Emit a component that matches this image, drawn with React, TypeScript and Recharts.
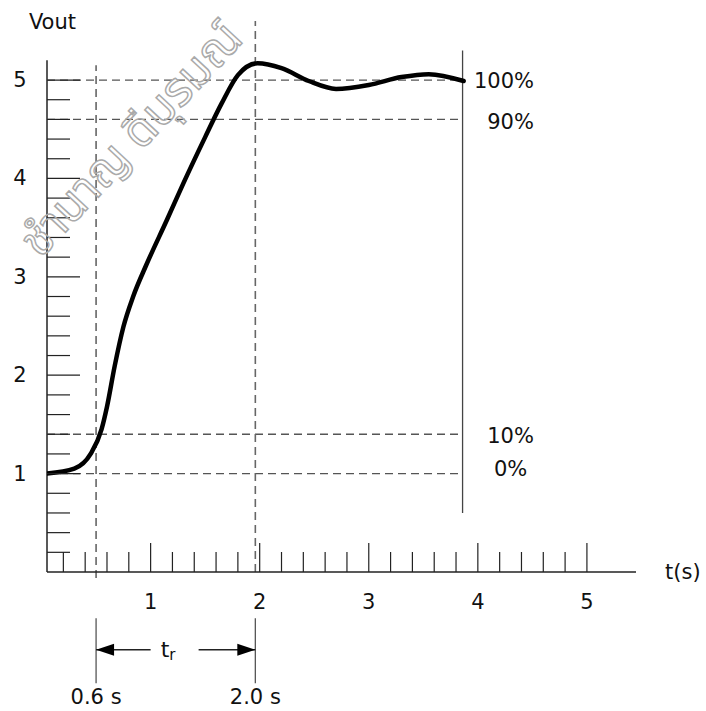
import React from "react";
import { LineChart, Line, XAxis, YAxis, ReferenceLine, ReferenceDot } from "recharts";

// step response (t in s, Vout in V)
const tValues = [0.05, 0.3, 0.45, 0.55, 0.6, 0.67, 0.75, 0.84, 0.96, 1.15, 1.3, 1.5, 1.65, 1.8, 1.98, 2.2, 2.45, 2.7, 3.0, 3.3, 3.55, 3.87];
const voutValues = [1.0, 1.05, 1.2, 1.45, 1.68, 2.09, 2.49, 2.8, 3.12, 3.58, 3.95, 4.42, 4.76, 5.05, 5.17, 5.12, 4.99, 4.91, 4.95, 5.03, 5.06, 4.99];

const xMajor = [1, 2, 3, 4, 5];
const xLabels = ["1", "2", "3", "4", "5"];
const xTicks = [0.2, 0.4, 0.6, 0.8, 1, 1.2, 1.4, 1.6, 1.8, 2, 2.2, 2.4, 2.6, 2.8, 3, 3.2, 3.4, 3.6, 3.8, 4, 4.2, 4.4, 4.6, 4.8, 5];

const yMajor = [1, 2, 3, 4, 5];
const yLabels = ["1", "2", "3", "4", "5"];
const yTicks = [0.2, 0.4, 0.6, 0.8, 1, 1.2, 1.4, 1.6, 1.8, 2, 2.2, 2.4, 2.6, 2.8, 3, 3.2, 3.4, 3.6, 3.8, 4, 4.2, 4.4, 4.6, 4.8, 5];

// 100% / 90% / 10% / 0% levels
const percentLevels = [5.0, 4.6, 1.4, 1.0];
const percentLabels = ["100%", "90%", "10%", "0%"];
const percentLabelX = [4.24, 4.3, 4.3, 4.3];
const percentLabelY = [4.99, 4.57, 1.38, 1.05];
const levelEnd = 3.86;

// rise time markers (where they sit on the drawing) and their labels
const riseMarks = [0.5, 1.96];
const riseLabels = ["0.6 s", "2.0 s"];

const data = tValues.map((t, i) => ({ t, v: voutValues[i] }));

const FONT = "'DejaVu Sans', Verdana, sans-serif";
const INK = "#222";
const DASH = "#555";

function XTick({ x, y, payload }: any) {
  const idx = xMajor.indexOf(payload.value);
  const major = idx >= 0;
  return (
    <g>
      <line x1={x} x2={x} y1={y} y2={y - (major ? 29 : 20)} stroke={INK} strokeWidth={1.2} />
      {major && (
        <text x={x} y={y + 30} textAnchor="middle" dominantBaseline="central" fontSize={21} fontFamily={FONT} fill="#111">
          {xLabels[idx]}
        </text>
      )}
    </g>
  );
}

function YTick({ x, y, payload }: any) {
  const idx = yMajor.indexOf(payload.value);
  const major = idx >= 0;
  return (
    <g>
      <line x1={x} x2={x + (major ? 33 : 23)} y1={y} y2={y} stroke={INK} strokeWidth={1.2} />
      {major && (
        <text x={x - 27} y={y} textAnchor="middle" dominantBaseline="central" fontSize={21} fontFamily={FONT} fill="#111">
          {yLabels[idx]}
        </text>
      )}
    </g>
  );
}

function Arrow(props: any) {
  const { x1, y1, x2, y2 } = props;
  const dir = Math.sign(x2 - x1);
  return (
    <g>
      <line x1={x1} y1={y1} x2={x2} y2={y2} stroke={INK} strokeWidth={1.3} />
      <polygon points={`${x2},${y2} ${x2 - dir * 18},${y2 - 6} ${x2 - dir * 18},${y2 + 6}`} fill="#000" />
    </g>
  );
}

function textShape(value: string, anchor = "middle") {
  return (p: any) => (
    <text x={p.cx} y={p.cy} textAnchor={anchor} dominantBaseline="central" fontSize={21} fontFamily={FONT} fill="#111">
      {value}
    </text>
  );
}

function TrShape(p: any) {
  return (
    <text x={p.cx} y={p.cy} textAnchor="middle" dominantBaseline="central" fontSize={22} fontFamily={FONT} fill="#111">
      t
      <tspan fontSize={15} dy={5}>r</tspan>
    </text>
  );
}

export default function App() {
  return (
    <div style={{ position: "absolute", left: 0, top: 0, width: 706, height: 711, background: "#fff" }}>
      <LineChart width={706} height={711} data={data} margin={{ top: 21, right: 70, bottom: 109, left: 0 }}>
        <XAxis
          dataKey="t"
          type="number"
          domain={[0.05, 5.45]}
          allowDataOverflow
          ticks={xTicks}
          interval={0}
          tickSize={0}
          tickMargin={0}
          height={30}
          tick={<XTick />}
          axisLine={{ stroke: INK, strokeWidth: 1.5 }}
        />
        <YAxis
          type="number"
          domain={[0, 5.6]}
          allowDataOverflow
          ticks={yTicks}
          interval={0}
          tickSize={0}
          tickMargin={0}
          width={47}
          tick={<YTick />}
          axisLine={false}
        />
        {/* vertical axis stops short of the top */}
        <ReferenceLine segment={[{ x: 0.05, y: 0 }, { x: 0.05, y: 5.2 }]} stroke={INK} strokeWidth={1.5} ifOverflow="visible" />

        {percentLevels.map((lv) => (
          <ReferenceLine key={lv} segment={[{ x: 0.05, y: lv }, { x: levelEnd, y: lv }]} stroke={DASH} strokeWidth={1.3} strokeDasharray="8 5" />
        ))}
        <ReferenceLine segment={[{ x: levelEnd, y: 0.6 }, { x: levelEnd, y: 5.3 }]} stroke="#444" strokeWidth={1.3} />

        <ReferenceLine segment={[{ x: riseMarks[0], y: -0.06 }, { x: riseMarks[0], y: 5.15 }]} stroke="#666" strokeWidth={1.6} strokeDasharray="8 5" ifOverflow="visible" />
        <ReferenceLine segment={[{ x: riseMarks[1], y: 0 }, { x: riseMarks[1], y: 5.6 }]} stroke="#666" strokeWidth={1.6} strokeDasharray="8 5" ifOverflow="visible" />

        {/* t_r bracket under the axis */}
        {riseMarks.map((m) => (
          <ReferenceLine key={"b" + m} segment={[{ x: m, y: -0.47 }, { x: m, y: -1.13 }]} stroke="#555" strokeWidth={1.3} ifOverflow="visible" />
        ))}
        <ReferenceLine segment={[{ x: 1.0, y: -0.79 }, { x: riseMarks[0], y: -0.79 }]} shape={Arrow} ifOverflow="visible" />
        <ReferenceLine segment={[{ x: 1.44, y: -0.79 }, { x: riseMarks[1], y: -0.79 }]} shape={Arrow} ifOverflow="visible" />
        <ReferenceDot x={1.16} y={-0.79} r={0} shape={TrShape} ifOverflow="visible" />
        {riseMarks.map((m, i) => (
          <ReferenceDot key={"l" + m} x={m} y={-1.27} r={0} shape={textShape(riseLabels[i])} ifOverflow="visible" />
        ))}

        {percentLabels.map((lab, i) => (
          <ReferenceDot key={lab} x={percentLabelX[i]} y={percentLabelY[i]} r={0} shape={textShape(lab)} ifOverflow="visible" />
        ))}

        <ReferenceDot x={0.1} y={5.59} r={0} shape={textShape("Vout")} ifOverflow="visible" />
        <ReferenceDot x={5.88} y={0} r={0} shape={textShape("t(s)")} ifOverflow="visible" />

        <Line
          dataKey="v"
          type="monotone"
          stroke="#000"
          strokeWidth={4.5}
          strokeLinecap="round"
          dot={false}
          isAnimationActive={false}
        />
      </LineChart>
      <svg width={706} height={711} style={{ position: "absolute", left: 0, top: 0, pointerEvents: "none" }}>
        <text
          x={132}
          y={140}
          transform="rotate(-47 132 140)"
          textAnchor="middle"
          dominantBaseline="central"
          fontSize={47}
          fill="none"
          stroke="#aaa"
          strokeWidth={1.5}
          fontFamily="'Noto Sans Thai', 'Noto Sans', sans-serif"
        >
          ชำนาญ ดีบุรมณ์
        </text>
      </svg>
    </div>
  );
}
